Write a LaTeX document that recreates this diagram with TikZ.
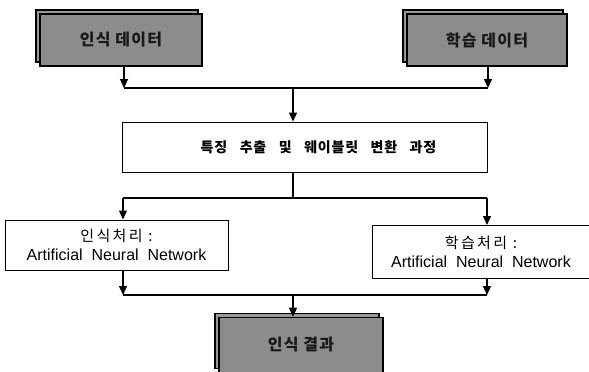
\documentclass[tikz,border=0pt]{standalone}
\usepackage{fontspec}
\setmainfont{Liberation Sans}
\newfontfamily\kr{Noto Sans CJK KR}
\usetikzlibrary{arrows.meta,shadows}
\begin{document}
\begin{tikzpicture}[x=1pt,y=-1pt,
  darkbox/.style={draw=black, line width=1.6pt, fill=black!45, minimum width=162pt, minimum height=52pt, inner sep=0pt,
    font=\kr\bfseries\fontsize{16}{18}\selectfont\addfontfeature{LetterSpace=8}, text=black!90,
    copy shadow={shadow xshift=-4pt, shadow yshift=4pt, draw=black, line width=1.2pt, fill=black!40}},
  whitebox/.style={draw=black, line width=1pt, fill=white, inner sep=0pt, align=center, font=\fontsize{16}{19}\selectfont},
  conn/.style={line width=1.3pt},
  arr/.style={conn, -{Triangle[length=9pt,width=8pt]}},
]
\useasboundingbox (0,0) rectangle (589,372);
\begin{scope}
\clip (0,0) rectangle (589,372);
\node[darkbox] (tl) at (121,40) {인식 데이터};
\node[darkbox, minimum width=160pt] (tr) at (487,40) {학습 데이터};
\node[darkbox, minimum width=164pt, minimum height=55pt] (res) at (301,345) {인식 결과};
\node[whitebox, minimum width=365pt, minimum height=50pt, font=\kr\bfseries\fontsize{14}{16}\selectfont\addfontfeature{LetterSpace=6}] (mid) at (304.5,147) {\hspace*{28pt}특징\hspace{0.6em} 추출\hspace{0.6em} 및\hspace{0.6em} 웨이블릿\hspace{0.6em} 변환\hspace{0.6em} 과정};
\node[whitebox, minimum width=223pt, minimum height=50pt] (lrec) at (116.5,245) {{\kr\fontsize{15}{16}\selectfont\addfontfeature{LetterSpace=16}인식처리 :}\\[0pt] Artificial\ \ Neural\ \ Network};
\node[whitebox, minimum width=218pt, minimum height=53pt] (rlearn) at (481,252) {{\kr\fontsize{15}{16}\selectfont\addfontfeature{LetterSpace=16}학습처리 :}\\[0pt] Artificial\ \ Neural\ \ Network};
\end{scope}
\coordinate (a1) at (124,88);
\coordinate (a2) at (488,88);
\coordinate (am) at (293,88);
\draw[arr] (tl.south -| a1) -- (a1);
\draw[arr] (tr.south -| a2) -- (a2);
\draw[conn] (a1) -- (a2);
\draw[arr] (am) -- (mid.north -| am);
\coordinate (b1) at (123,198);
\coordinate (b2) at (487,198);
\coordinate (bm) at (293,198);
\draw[conn] (mid.south -| bm) -- (bm);
\draw[conn] (b1) -- (b2);
\draw[arr] (b1) -- (lrec.north -| b1);
\draw[arr] (b2) -- (rlearn.north -| b2);
\coordinate (c1) at (123,295);
\coordinate (c2) at (487,295);
\coordinate (cm) at (293,295);
\draw[arr] (lrec.south -| c1) -- (c1);
\draw[arr] (rlearn.south -| c2) -- (c2);
\draw[conn] (c1) -- (c2);
\draw[arr] (cm) -- (res.north -| cm);
\end{tikzpicture}
\end{document}
